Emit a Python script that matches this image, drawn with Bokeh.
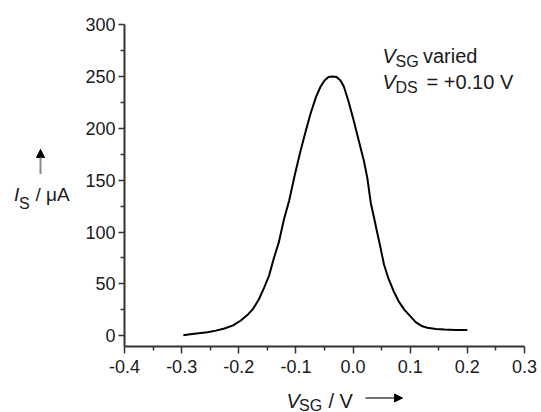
from bokeh.plotting import figure
from bokeh.layouts import column, row
from bokeh.models import Range1d, FixedTicker, PrintfTickFormatter, Label, Arrow, NormalHead
from bokeh.embed import file_html
from bokeh.resources import INLINE

# ---- data ----
vsg = [-0.297, -0.285, -0.27, -0.255, -0.24, -0.225, -0.21, -0.197, -0.185, -0.175,
       -0.165, -0.156, -0.147, -0.139, -0.13, -0.121, -0.112, -0.102, -0.092, -0.083,
       -0.0745, -0.065, -0.057, -0.05, -0.043, -0.036, -0.029, -0.022, -0.016, -0.008,
       0.0013, 0.01, 0.0188, 0.025, 0.031, 0.037, 0.042, 0.048, 0.054, 0.062,
       0.071, 0.08, 0.09, 0.1, 0.11, 0.12, 0.13, 0.145, 0.16, 0.18, 0.2]
i_s = [0.5, 1.5, 2.5, 3.5, 5, 7, 10, 14.5, 20, 26,
       35, 46, 58, 74, 90, 112, 130, 155, 178, 197,
       214, 230, 240, 246, 249.5, 250, 249.5, 246, 240, 226,
       207, 188, 169, 152, 128, 113, 100, 85, 69, 55,
       43, 33, 25, 19, 13, 9.5, 7.8, 6.5, 6, 5.5, 5.5]

x_ticks = [-0.4, -0.3, -0.2, -0.1, 0.0, 0.1, 0.2, 0.3]
x_minor = [-0.35, -0.25, -0.15, -0.05, 0.05, 0.15, 0.25]
y_ticks = [0, 50, 100, 150, 200, 250, 300]
y_minor = [25, 75, 125, 175, 225, 275]

X0, X1 = -0.4, 0.3
Y0, Y1 = -10.3, 300

FONT = "Liberation Sans"
TXT = "#1a1a1a"
AX = "#333333"

YLW = 76  # width of the left label panel

# ---------------- main plot (page x 76..541, y 0..380) ----------------
p = figure(width=541 - YLW, height=380, output_backend="svg", toolbar_location=None,
           x_range=Range1d(X0, X1), y_range=Range1d(Y0, Y1),
           min_border_left=124 - YLW, min_border_right=17, min_border_top=24, min_border_bottom=34)
p.outline_line_color = None
p.grid.visible = False

p.line(vsg, i_s, line_color="black", line_width=2)

for ax in (p.xaxis[0], p.yaxis[0]):
    ax.axis_line_color = AX
    ax.axis_line_width = 2
    ax.major_tick_line_color = AX
    ax.minor_tick_line_color = AX
    ax.major_tick_line_width = 1.5
    ax.minor_tick_line_width = 1.5
    ax.major_tick_in = 0
    ax.major_tick_out = 7
    ax.minor_tick_in = 0
    ax.minor_tick_out = 4
    ax.major_label_text_font = FONT
    ax.major_label_text_font_size = "18px"
    ax.major_label_text_color = TXT

p.xaxis[0].ticker = FixedTicker(ticks=x_ticks, minor_ticks=x_minor)
p.xaxis[0].formatter = PrintfTickFormatter(format="%.1f")
p.xaxis[0].major_label_standoff = 6
p.yaxis[0].ticker = FixedTicker(ticks=y_ticks, minor_ticks=y_minor)
p.yaxis[0].major_tick_out = 6
p.yaxis[0].major_label_standoff = 3

# frame spans page x 124..524, y 24..346
FL, FR, FT, FB = 124, 524, 24, 346
def dx(px):
    return X0 + (px - FL) / (FR - FL) * (X1 - X0)
def dy(py):
    return Y1 - (py - FT) / (FB - FT) * (Y1 - Y0)

def lab(fig, x, y, text, size, style="normal"):
    fig.add_layout(Label(x=x, y=y, text=text, text_font=FONT,
                         text_font_size=size, text_font_style=style,
                         text_color=TXT, text_align="left",
                         text_baseline="alphabetic"))

lab(p, dx(382), dy(55), "V", "20px", "italic")
lab(p, dx(395), dy(60.5), "SG", "16px")
lab(p, dx(422.5), dy(55), "varied", "20px")
lab(p, dx(382), dy(81.7), "V", "20px", "italic")
lab(p, dx(395), dy(87.3), "DS", "16px")
lab(p, dx(426), dy(81.7), "= +0.10 V", "20px")

def blank(w, h, x0, x1, y0, y1):
    f = figure(width=w, height=h, output_backend="svg", toolbar_location=None,
               x_range=Range1d(x0, x1), y_range=Range1d(y0, y1),
               x_axis_location=None, y_axis_location=None,
               min_border=0, min_border_left=0, min_border_right=0,
               min_border_top=0, min_border_bottom=0)
    f.outline_line_color = None
    f.grid.visible = False
    return f

# ---------------- y label panel (page x 0..76, y 0..380) ----------------
yl = blank(YLW, 380, 0, YLW, 380, 0)
lab(yl, 13.5, 201, "I", "19px", "italic")
lab(yl, 18.5, 211.5, "S", "16px")
lab(yl, 35, 201, "/ \u03bcA", "19px")
yl.add_layout(Arrow(end=NormalHead(size=8, fill_color="black", line_color="black", line_width=1),
                    x_start=40, y_start=176.5, x_end=40, y_end=147.5,
                    line_color="#8a8a8a", line_width=2))

# ---------------- x label panel (page x 0..541, y 380..412) ----------------
xl = blank(541, 32, 0, 541, 412, 380)
lab(xl, 286, 400, "V", "20px", "italic")
lab(xl, 298.5, 404.5, "SG", "16px")
lab(xl, 328, 400, "/ V", "20px")
xl.add_layout(Arrow(end=NormalHead(size=8, fill_color="black", line_color="black", line_width=1),
                    x_start=365, y_start=397.5, x_end=402, y_end=397.5,
                    line_color="#444444", line_width=1.5))

layout = column(row(yl, p, spacing=0), xl, spacing=0)
open("out.html", "w").write(file_html(layout, INLINE))
